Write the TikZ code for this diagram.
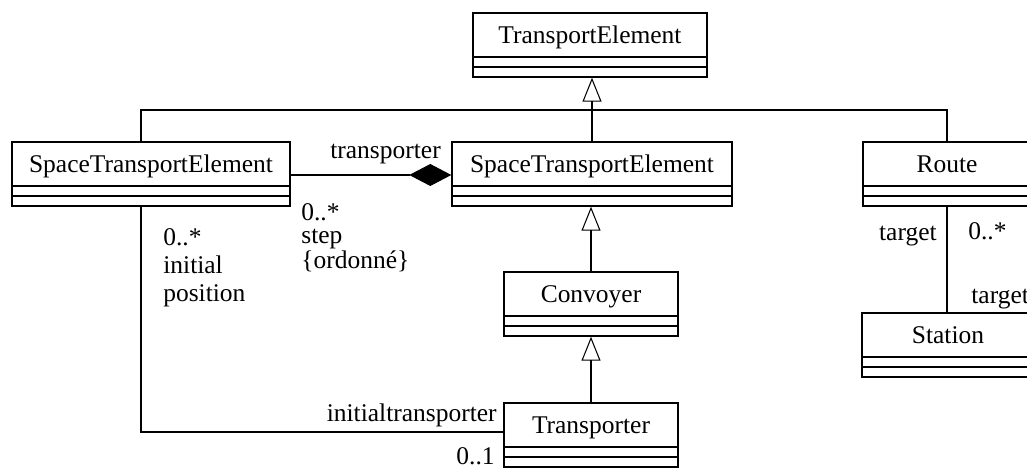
\documentclass[tikz,border=0pt]{standalone}
\usepackage{fontspec}
\setmainfont{Liberation Serif}
\usetikzlibrary{arrows.meta,positioning,calc}

\begin{document}
\begin{tikzpicture}[font=\fontsize{14.5}{16}\selectfont,
  classbox/.style={draw, line width=0.8pt, inner sep=0pt, minimum height=1.28cm,
    text height=0.61cm, text depth=0.67cm,
    path picture={
      \draw[line width=0.8pt] ([yshift=0.4cm]path picture bounding box.south west) -- ([yshift=0.4cm]path picture bounding box.south east);
      \draw[line width=0.8pt] ([yshift=0.2cm]path picture bounding box.south west) -- ([yshift=0.2cm]path picture bounding box.south east);
    }},
  gen/.style={-{Triangle[open, length=0.48cm, width=0.38cm]}, line width=0.6pt},
  assoc/.style={line width=0.6pt},
  role/.style={inner sep=0pt}]
  \useasboundingbox (0,0) rectangle (20.54,-9.36);
  \clip (0,0) rectangle (20.54,-9.36);

  % classes
  \node[classbox, minimum width=4.68cm] (te) at (11.80,-0.90) {TransportElement};
  \node[classbox, minimum width=5.56cm] (steL) at (3.02,-3.48) {SpaceTransportElement};
  \node[classbox, minimum width=5.60cm] (steM) at (11.84,-3.48) {SpaceTransportElement};
  \node[classbox, minimum width=3.36cm] (route) at (18.94,-3.48) {Route};
  \node[classbox, minimum width=3.44cm] (station) at (18.96,-6.90) {Station};
  \node[classbox, minimum width=3.48cm] (convoyer) at (11.82,-6.08) {Convoyer};
  \node[classbox, minimum width=3.48cm] (transporter) at (11.82,-8.70) {Transporter};

  % inheritance
  \coordinate (split) at (11.84,-2.20);
  \draw[gen] (steM.north) -- (steM.north |- te.south);
  \draw[assoc] ([xshift=-0.2cm]steL.north) |- (split) -| (route.north);
  \draw[gen] (convoyer.north) -- (convoyer.north |- steM.south);
  \draw[gen] (transporter.north) -- (convoyer.south);

  % associations
  \draw[assoc, -{Diamond[length=0.84cm, width=0.44cm]}] ([yshift=-0.02cm]steL.east) -- ([yshift=-0.02cm]steM.west);
  \draw[assoc] ([xshift=-0.2cm]steL.south) |- ([yshift=0.06cm]transporter.west);
  \draw[assoc] (route.south) -- (route.south |- station.north);

  % roles and multiplicities
  \node[role, anchor=base west] at (6.60,-3.18) {transporter};
  \node[role, anchor=north west, align=left, font=\fontsize{14.5}{13}\selectfont] at (6.02,-4.06)
    {0..*\\step\\\{ordonné\}};
  \node[role, anchor=north west, align=left, font=\fontsize{14.5}{15.9}\selectfont] at (3.26,-4.56)
    {0..*\\initial\\position};
  \node[role, anchor=base east] at (9.94,-8.44) {initialtransporter};
  \node[role, anchor=base east] at (9.90,-9.30) {0..1};
  \node[role, anchor=base east] at (18.74,-4.82) {target};
  \node[role, anchor=base west] at (19.36,-4.80) {0..*};
  \node[role, anchor=base west] at (19.42,-6.08) {target};
\end{tikzpicture}
\end{document}
